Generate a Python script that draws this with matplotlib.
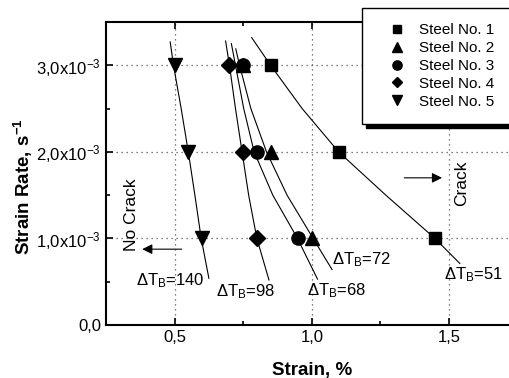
import matplotlib
matplotlib.use('Agg')
import matplotlib.pyplot as plt
from matplotlib.ticker import FixedLocator, MultipleLocator

plt.rcParams['font.family'] = ['Liberation Sans', 'DejaVu Sans']
plt.rcParams['mathtext.fontset'] = 'custom'
plt.rcParams['mathtext.rm'] = 'Liberation Sans'
plt.rcParams['mathtext.it'] = 'Liberation Sans:italic'
plt.rcParams['mathtext.bf'] = 'Liberation Sans:bold'
plt.rcParams['font.size'] = 12

# measured points: strain (%) vs strain rate (1/s)
rates = [3.0e-3, 2.0e-3, 1.0e-3]
steel1 = [0.85, 1.10, 1.45]
steel2 = [0.75, 0.85, 1.00]
steel3 = [0.75, 0.80, 0.95]
steel4 = [0.70, 0.75, 0.80]
steel5 = [0.50, 0.55, 0.60]

# fitted curves (strain, rate)
fit1_x = [0.781, 0.85, 0.965, 1.098, 1.27, 1.449, 1.54]
fit1_y = [3.32e-3, 3.0e-3, 2.5e-3, 2.0e-3, 1.5e-3, 1.0e-3, 0.71e-3]
fit2_x = [0.723, 0.737, 0.778, 0.835, 0.91, 1.005, 1.074]
fit2_y = [3.19e-3, 3.0e-3, 2.5e-3, 2.0e-3, 1.5e-3, 1.0e-3, 0.64e-3]
fit3_x = [0.707, 0.722, 0.752, 0.79, 0.858, 0.948, 1.021]
fit3_y = [3.25e-3, 3.0e-3, 2.5e-3, 2.0e-3, 1.5e-3, 1.0e-3, 0.53e-3]
fit4_x = [0.686, 0.70, 0.722, 0.746, 0.77, 0.80, 0.844]
fit4_y = [3.28e-3, 3.0e-3, 2.5e-3, 2.0e-3, 1.5e-3, 1.0e-3, 0.52e-3]
fit5_x = [0.484, 0.496, 0.524, 0.55, 0.574, 0.597, 0.625]
fit5_y = [3.27e-3, 3.0e-3, 2.5e-3, 2.0e-3, 1.5e-3, 1.0e-3, 0.54e-3]

labels = ['Steel No. 1', 'Steel No. 2', 'Steel No. 3', 'Steel No. 4', 'Steel No. 5']
dtb = ['51', '72', '68', '98', '140']
dtb_pos = [(1.482, 0.58e-3), (1.072, 0.75e-3), (0.981, 0.40e-3), (0.652, 0.385e-3), (0.361, 0.51e-3)]

yticks = [0.0, 1.0e-3, 2.0e-3, 3.0e-3]
ytick_labels = ['0,0', '1,0x10$^{-3}$', '2,0x10$^{-3}$', '3,0x10$^{-3}$']
xticks = [0.5, 1.0, 1.5]
xtick_labels = ['0,5', '1,0', '1,5']

W, H = 509, 378
fig = plt.figure(figsize=(W / 100, H / 100), dpi=100)
ax = fig.add_axes([106 / W, 1 - 325 / H, 411.5 / W, 303 / H])

fits = [(fit1_x, fit1_y), (fit2_x, fit2_y), (fit3_x, fit3_y), (fit4_x, fit4_y), (fit5_x, fit5_y)]
for fx, fy in fits:
    ax.plot(fx, fy, color='black', lw=0.8, zorder=2)

series = [steel1, steel2, steel3, steel4, steel5]
markers = ['s', '^', 'o', 'D', 'v']
sizes = [9, 10, 9.5, 8, 10]
for xs, m, ms, lab in zip(series, markers, sizes, labels):
    ax.plot(xs, rates, ls='none', marker=m, ms=ms, color='black', label=lab, zorder=3)

for (tx, ty), t in zip(dtb_pos, dtb):
    ax.text(tx, ty, r'ΔT$_{\mathrm{B}}$=' + t, ha='left', va='center', fontsize=12)

# crack / no crack regions
ax.annotate('', xy=(1.485, 1.70e-3), xytext=(1.327, 1.70e-3),
            arrowprops=dict(arrowstyle='-|>', color='black', lw=0.8, mutation_scale=15))
ax.text(1.546, 1.64e-3, 'Crack', rotation=90, ha='center', va='center', fontsize=12.5)
ax.annotate('', xy=(0.372, 0.876e-3), xytext=(0.536, 0.876e-3),
            arrowprops=dict(arrowstyle='-|>', color='black', lw=0.8, mutation_scale=15))
ax.text(0.343, 1.28e-3, 'No Crack', rotation=90, ha='center', va='center', fontsize=12.5)

ax.set_xlim(0.25, 1.75)
ax.set_ylim(0, 3.5e-3)
ax.xaxis.set_major_locator(FixedLocator(xticks))
ax.set_xticklabels(xtick_labels)
ax.xaxis.set_minor_locator(MultipleLocator(0.25))
ax.yaxis.set_major_locator(FixedLocator(yticks))
ax.set_yticklabels(ytick_labels)
ax.yaxis.set_minor_locator(MultipleLocator(0.5e-3))
ax.tick_params(which='both', direction='in', top=True, right=True, width=1.2, labelsize=12)
ax.tick_params(which='major', length=5)
ax.tick_params(which='minor', length=3)
for s in ax.spines.values():
    s.set_linewidth(1.5)
ax.grid(True, which='major', ls=(0, (1, 3)), color='#555555', lw=0.9)

ax.set_xlabel('Strain, %', fontsize=13.5, fontweight='bold', labelpad=12)
fig.text(23 / W, 1 - 186.5 / H, r'Strain Rate, s$^{\mathbf{-1}}$', rotation=90,
         ha='center', va='center', fontsize=13.5, fontweight='bold')

leg = ax.legend(loc='upper left', bbox_to_anchor=(362 / W, 1 - 8 / H), bbox_transform=fig.transFigure,
                borderaxespad=0, fancybox=False, framealpha=1, edgecolor='black', fontsize=11,
                markerscale=0.7, handlelength=2.6, handletextpad=0.15, labelspacing=0.25,
                borderpad=1.0, shadow={'color': 'black', 'alpha': 1, 'ox': 3, 'oy': -3})
leg.get_frame().set_linewidth(1.0)
leg.set_zorder(5)

fig.savefig('out.png', dpi=100)
